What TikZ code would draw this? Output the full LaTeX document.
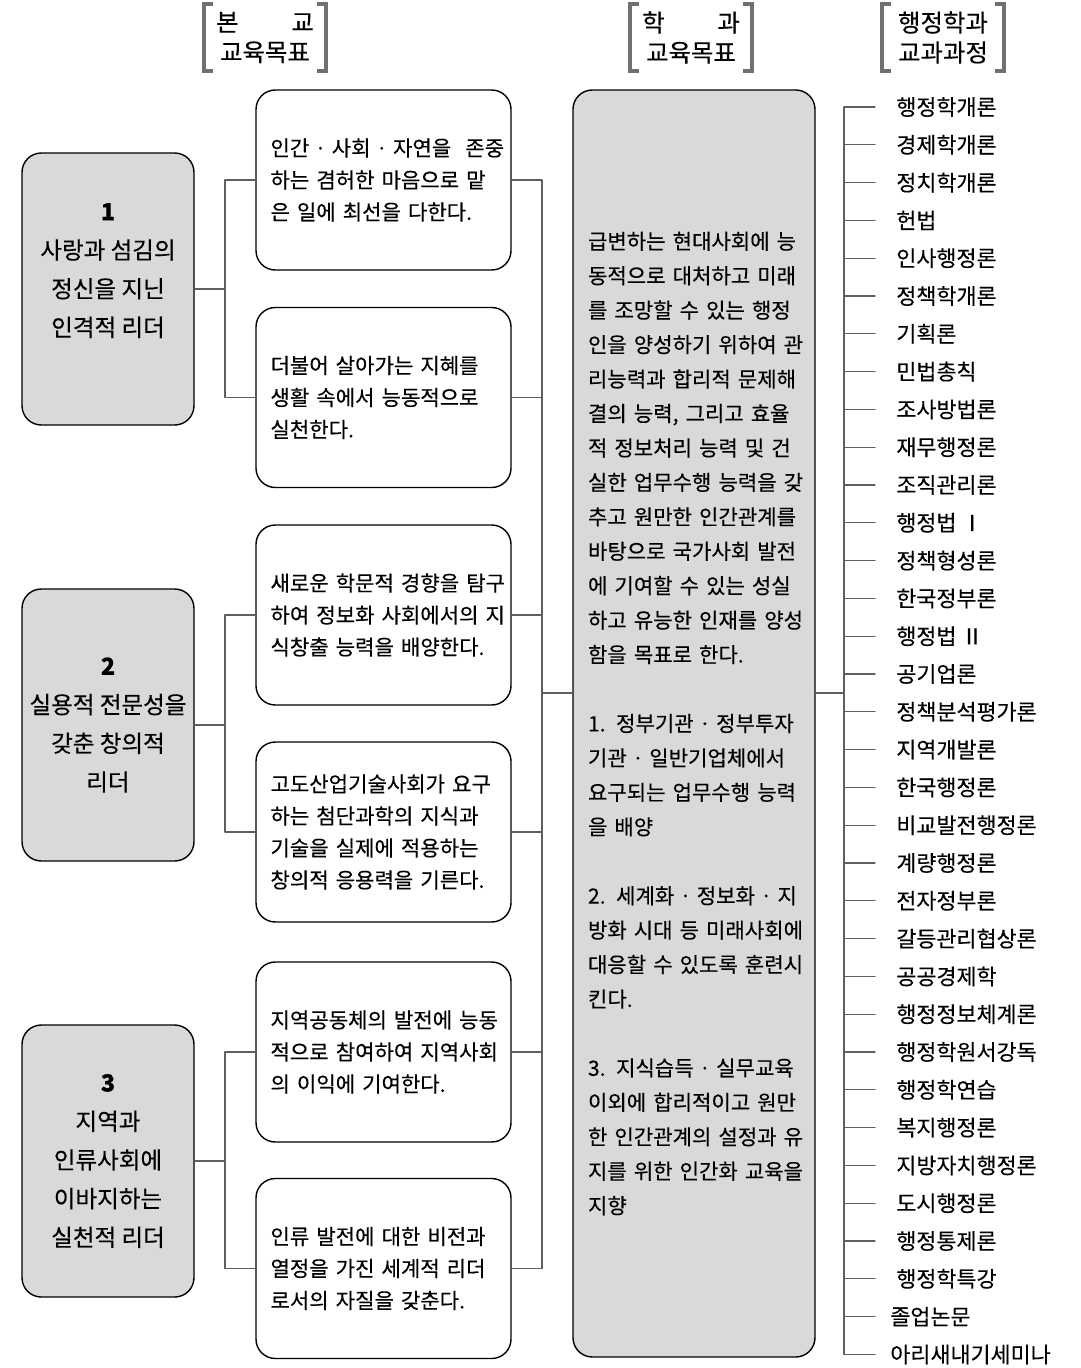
\documentclass[tikz,border=0pt]{standalone}
\usepackage{fontspec}
\setmainfont{Noto Sans CJK KR}[FakeBold=0.3]
\definecolor{boxgray}{HTML}{D9D9D9}
\definecolor{linkgray}{HTML}{5F5F5F}
\definecolor{brgray}{HTML}{707070}
\newcommand\jw[1]{\makebox[4.52cm][s]{#1}}
\newcommand\jm[1]{\makebox[4.24cm][s]{#1}}
\newcommand\dt{\makebox[0.4em]{·}}
\begin{document}
\begin{tikzpicture}[line cap=round, line join=round, font=\fontsize{12}{18.2}\selectfont]
	\tikzset{goal/.style={draw, line width=0.8pt, fill=boxgray, rounded corners=11pt, minimum width=3.44cm, minimum height=5.44cm, align=center, font=\fontsize{13.4}{22}\selectfont},
		aim/.style={draw, line width=0.8pt, fill=white, rounded corners=11pt, text width=4.52cm, inner xsep=0.29cm, minimum height=3.6cm, align=left},
		mid/.style={draw, line width=0.8pt, fill=boxgray, rounded corners=11pt, text width=4.24cm, inner xsep=0.3cm, minimum height=25.34cm, align=left, font=\fontsize{12}{19.6}\selectfont},
		head/.style={align=center, font=\fontsize{13.9}{17}\selectfont},
		course/.style={anchor=west, inner sep=0pt, font=\fontsize{12.4}{15}\selectfont},
		link/.style={draw=linkgray, line width=0.7pt},
		bracket/.style={draw=brgray, line width=2.3pt, line cap=butt, line join=miter}}
	\useasboundingbox (0,0) rectangle (21.62,-27.36);
	\node[head] (h1) at (5.3,-0.75) {\makebox[4em]{본\hfill 교}\\교육목표};
	\node[head] (h2) at (13.82,-0.75) {\makebox[4em]{학\hfill 과}\\교육목표};
	\node[head] (h3) at (18.86,-0.75) {행정학과\\교과과정};
	\foreach \h in {h1,h2,h3}{
		\draw[bracket] ([shift={(-1.04,0.67)}]\h.center) -- ++(-0.18,0) -- ++(0,-1.34) -- ++(0.18,0);
		\draw[bracket] ([shift={(1.04,0.67)}]\h.center) -- ++(0.18,0) -- ++(0,-1.34) -- ++(-0.18,0);
	}
	\node[goal] (g1) at (2.16,-5.78) {\textbf{1}\\사랑과 섬김의\\정신을 지닌\\인격적 리더\\\mbox{}};
	\node[goal] (g2) at (2.16,-14.5) {\textbf{2}\\실용적 전문성을\\갖춘 창의적\\리더};
	\node[goal] (g3) at (2.16,-23.22) {\textbf{3}\\지역과\\인류사회에\\이바지하는\\실천적 리더};
	\node[aim] (a1) at (7.67,-3.6) {\jw{인간 \dt\ 사회 \dt\ 자연을 \ 존중}\\\jw{하는 겸허한 마음으로 맡}\\은 일에 최선을 다한다.};
	\node[aim] (a2) at (7.67,-7.95) {\jw{더불어 살아가는 지혜를}\\\jw{생활 속에서 능동적으로}\\실천한다.};
	\node[aim] (a3) at (7.67,-12.3) {\jw{새로운 학문적 경향을 탐구}\\\jw{하여 정보화 사회에서의 지}\\식창출 능력을 배양한다.};
	\node[aim] (a4) at (7.67,-16.64) {\jw{고도산업기술사회가 요구}\\\jw{하는 첨단과학의 지식과}\\\jw{기술을 실제에 적용하는}\\창의적 응용력을 기른다.};
	\node[aim] (a5) at (7.67,-21.04) {\jw{지역공동체의 발전에 능동}\\\jw{적으로 참여하여 지역사회}\\의 이익에 기여한다.};
	\node[aim] (a6) at (7.67,-25.37) {\jw{인류 발전에 대한 비전과}\\\jw{열정을 가진 세계적 리더}\\로서의 자질을 갖춘다.};
	\node[mid] (m) at (13.88,-14.47) {\jm{급변하는 현대사회에 능}\\
		\jm{동적으로 대처하고 미래}\\
		\jm{를 조망할 수 있는 행정}\\
		\jm{인을 양성하기 위하여 관}\\
		\jm{리능력과 합리적 문제해}\\
		\jm{결의 능력, 그리고 효율}\\
		\jm{적 정보처리 능력 및 건}\\
		\jm{실한 업무수행 능력을 갖}\\
		\jm{추고 원만한 인간관계를}\\
		\jm{바탕으로 국가사회 발전}\\
		\jm{에 기여할 수 있는 성실}\\
		\jm{하고 유능한 인재를 양성}\\
		함을 목표로 한다.\\
		\mbox{}\\
		\jm{1. 정부기관 \dt\ 정부투자}\\
		\jm{기관 \dt\ 일반기업체에서}\\
		\jm{요구되는 업무수행 능력}\\
		을 배양\\
		\mbox{}\\
		\jm{2. 세계화 \dt\ 정보화 \dt\ 지}\\
		\jm{방화 시대 등 미래사회에}\\
		\jm{대응할 수 있도록 훈련시}\\
		킨다.\\
		\mbox{}\\
		\jm{3. 지식습득 \dt\ 실무교육}\\
		\jm{이외에 합리적이고 원만}\\
		\jm{한 인간관계의 설정과 유}\\
		\jm{지를 위한 인간화 교육을}\\
		지향};
	\foreach \c [count=\i] in {행정학개론, 경제학개론, 정치학개론, 헌법, 인사행정론, 정책학개론, 기획론, 민법총칙, 조사방법론, 재무행정론, 조직관리론, 행정법 Ⅰ, 정책형성론, 한국정부론, 행정법 Ⅱ, 공기업론, 정책분석평가론, 지역개발론, 한국행정론, 비교발전행정론, 계량행정론, 전자정부론, 갈등관리협상론, 공공경제학, 행정정보체계론, 행정학원서강독, 행정학연습, 복지행정론, 지방자치행정론, 도시행정론, 행정통제론, 행정학특강, 졸업논문, 아리새내기세미나}{
		\pgfmathsetmacro{\cx}{ifthenelse(\i>32,17.8,17.92)}
		\node[course] (c\i) at (\cx,{-2.14-0.756*(\i-1)}) {\c};
		\draw[link] (16.88,0 |- c\i.west) -- (17.5,0 |- c\i.west);
	}
	\draw[link] (16.88,0 |- c1.west) -- (16.88,0 |- c34.west);
	\coordinate (k) at (16.88,-13.86);
	\draw[link] (k -| m.east) -- (k);
	\coordinate (r) at (10.84,-13.86);
	\foreach \i in {1,...,6} \draw[link] (a\i.east) -- (a\i.east -| r);
	\draw[link] (a1.east -| r) -- (a6.east -| r);
	\draw[link] (r) -- (r -| m.west);
	\coordinate (q1) at (4.5,0 |- g1.east);
	\coordinate (q2) at (4.5,0 |- g2.east);
	\coordinate (q3) at (4.5,0 |- g3.east);
	\draw[link] (g1.east) -- (q1);
	\draw[link] (a1.west) -| (q1) |- (a2.west);
	\draw[link] (g2.east) -- (q2);
	\draw[link] (a3.west) -| (q2) |- (a4.west);
	\draw[link] (g3.east) -- (q3);
	\draw[link] (a5.west) -| (q3) |- (a6.west);
\end{tikzpicture}
\end{document}
